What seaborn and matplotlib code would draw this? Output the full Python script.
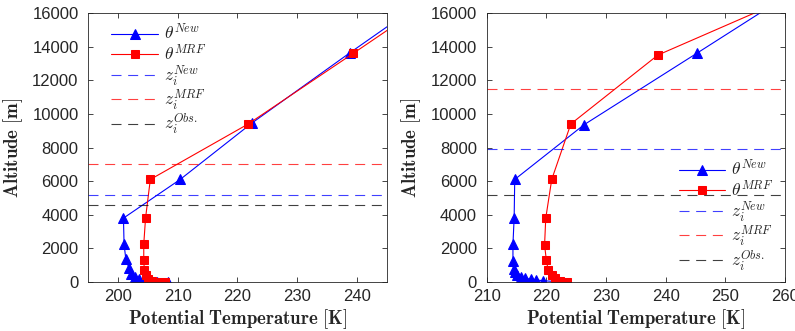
import numpy as np
import pandas as pd
import matplotlib
matplotlib.use("Agg")
import matplotlib.pyplot as plt
import seaborn as sns

# left panel profiles
left_new_theta = [208.3, 206.5, 205.3, 204.3, 203.5, 202.8, 202.2, 201.8, 201.3, 201.0, 200.9, 210.4, 222.4, 238.9, 256.0]
left_new_z = [0, 20, 60, 110, 180, 300, 500, 850, 1350, 2250, 3800, 6100, 9450, 13650, 17900]
left_mrf_theta = [207.8, 206.6, 205.6, 205.0, 204.7, 204.4, 204.3, 204.3, 204.6, 205.4, 221.8, 239.4, 256.0]
left_mrf_z = [0, 30, 80, 200, 420, 700, 1300, 2250, 3800, 6100, 9400, 13600, 17600]
left_zi = {"New": 5150, "MRF": 7000, "Obs.": 4600}

# right panel profiles
right_new_theta = [222.6, 219.4, 218.3, 217.5, 216.5, 215.8, 215.0, 214.7, 214.5, 214.4, 214.4, 214.6, 214.7, 226.3, 245.2, 262.0]
right_new_z = [0, 80, 120, 160, 220, 320, 420, 570, 800, 1250, 2250, 3800, 6100, 9350, 13600, 17400]
right_mrf_theta = [223.5, 222.3, 221.5, 220.9, 220.3, 220.0, 219.7, 219.9, 220.9, 224.1, 238.7, 262.0]
right_mrf_z = [0, 80, 220, 420, 710, 1300, 2200, 3800, 6100, 9400, 13500, 17100]
right_zi = {"New": 7900, "MRF": 11500, "Obs.": 5200}

sns.set_style("ticks")
plt.rcParams["font.family"] = ["Liberation Sans", "DejaVu Sans"]
plt.rcParams["mathtext.fontset"] = "cm"

fig = plt.figure(figsize=(7.95, 3.31), dpi=100)
ax1 = fig.add_axes([0.111, 0.148, 0.3754, 0.8127])
ax2 = fig.add_axes([0.6122, 0.148, 0.3752, 0.8127])

ink = "#262626"


def draw(ax, nt, nz, mt, mz, zi, xlim, legloc, anchor):
    sns.lineplot(x=nt, y=nz, sort=False, estimator=None, ax=ax, color="blue",
                 marker="^", markersize=7.5, markeredgecolor="blue", lw=0.8,
                 label=r"$\theta^{New}$")
    sns.lineplot(x=mt, y=mz, sort=False, estimator=None, ax=ax, color="red",
                 marker="s", markersize=5.5, markeredgecolor="red", lw=0.8,
                 label=r"$\theta^{MRF}$")
    ax.axhline(zi["New"], color="blue", lw=0.8, ls=(0, (9, 6)), alpha=0.75,
               label=r"$z_i^{New}$")
    ax.axhline(zi["MRF"], color="red", lw=0.8, ls=(0, (9, 6)), alpha=0.75,
               label=r"$z_i^{MRF}$")
    ax.axhline(zi["Obs."], color="black", lw=0.8, ls=(0, (9, 6)), alpha=0.75,
               label=r"$z_i^{Obs.}$")
    ax.set_xlim(*xlim)
    ax.set_ylim(0, 16000)
    ax.set_xticks(np.arange(xlim[0] + (10 - xlim[0] % 10) % 10, xlim[1] + 1, 10))
    ax.set_yticks(np.arange(0, 16001, 2000))
    ax.tick_params(direction="in", top=True, right=True, labelsize=12,
                   colors=ink, width=0.6, length=3.6)
    ax.tick_params(axis="x", pad=5)
    ax.tick_params(axis="y", pad=7)
    for s in ax.spines.values():
        s.set_visible(True)
        s.set_color(ink)
        s.set_linewidth(0.6)
    ax.set_xlabel(r"$\mathbf{Potential\ Temperature\ [K]}$", fontsize=13.5, color=ink)
    ax.set_ylabel(r"$\mathbf{Altitude\ [m]}$", fontsize=13.5, color=ink)
    ax.xaxis.set_label_coords(0.5, -0.092)
    ax.yaxis.set_label_coords(-0.212, 0.5)
    ax.legend(loc=legloc, bbox_to_anchor=anchor, frameon=False, fontsize=12.5,
              handlelength=2.7, handletextpad=0.3, labelspacing=0.0,
              borderaxespad=0.3)


draw(ax1, left_new_theta, left_new_z, left_mrf_theta, left_mrf_z, left_zi,
     (195, 245), "upper left", (0.037, 1.01))
draw(ax2, right_new_theta, right_new_z, right_mrf_theta, right_mrf_z, right_zi,
     (210, 260), "lower right", (1.0, -0.01))

fig.savefig("out.png", dpi=100)
